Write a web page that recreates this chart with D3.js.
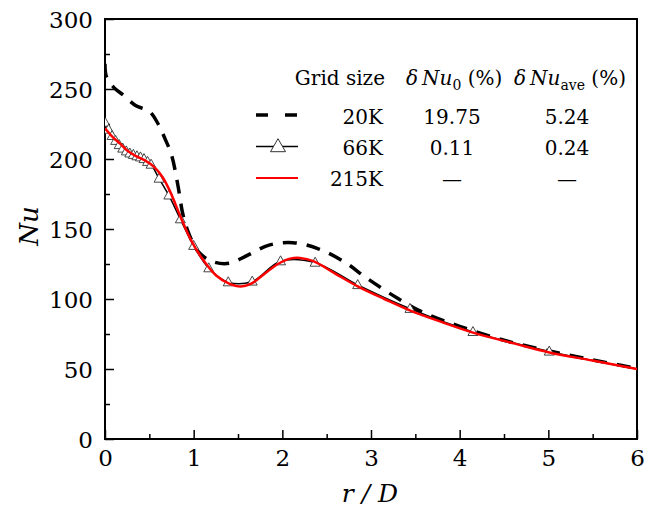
<!DOCTYPE html>
<html><head><meta charset="utf-8">
<script src="https://cdn.jsdelivr.net/npm/d3@7/dist/d3.min.js"></script>
<style>
body{margin:0;background:#fff;}
svg text{font-family:"DejaVu Serif","Liberation Serif",serif !important;fill:#000;}
</style></head>
<body><svg id="chart" width="647" height="510"></svg>
<script>
// ---- data ----
const xTicks = [0,1,2,3,4,5,6];
const yTicks = [0,50,100,150,200,250,300];
// 20K (dashed)
const k20R  = [0,0.015,0.1,0.2,0.35,0.5,0.6,0.68,0.75,0.82,0.88,0.95,1.05,1.2,1.4,1.6,1.85,2.12,2.4,2.7,2.95,3.3,3.6,4.0,4.5,5.0,5.5,6.0];
const k20Nu = [268,259,251,246,238,234,225,214,203,182,160,146,134,127,125.5,131,138.5,140.2,136,126.5,115,100.5,90,80.5,70.5,63,56.5,50.5];
// 66K (line + triangles)
const k66R  = [0,0.04,0.08,0.12,0.16,0.20,0.24,0.28,0.32,0.36,0.40,0.44,0.48,0.52,0.61,0.72,0.85,1.0,1.17,1.39,1.66,1.98,2.37,2.85,3.44,4.15,5.01,6.0];
const k66Nu = [226,221,216.5,213,210,207.5,205.5,204,203,202,201.2,200,198,196,186,174,157,138,122,112,112.5,127,126,110,93,76.5,62.5,50];
// 215K (red)
const k215R  = [0,0.09,0.17,0.25,0.35,0.45,0.55,0.65,0.74,0.85,0.97,1.1,1.25,1.4,1.53,1.65,1.8,1.95,2.1,2.2,2.35,2.6,2.85,3.15,3.45,3.8,4.15,4.6,5.0,5.5,6.0];
const k215Nu = [222,215.5,211,206,202,199,194.5,187,176,159,142,128.5,117,111,109,111,118,125,129,129.3,127,118,109,100,91.5,83.5,76,68.5,62,56,50];
// legend table
const legendNames = ["20K","66K","215K"];
const legendNu0   = ["19.75","0.11","\u2014"];
const legendNuAve = ["5.24","0.24","\u2014"];

// ---- layout ----
const svg = d3.select("#chart");
const L=105, R=637, T=19, B=439;
const x = d3.scaleLinear().domain([0,6]).range([L,R]);
const y = d3.scaleLinear().domain([0,300]).range([B,T]);
const FONT = "'DejaVu Serif','Liberation Serif',serif";

// frame
svg.append("rect").attr("x",L).attr("y",T).attr("width",R-L).attr("height",B-T)
  .attr("fill","none").attr("stroke","#000").attr("stroke-width",2);

// axes with inward ticks
const xMinor = d3.range(0.5,6,1);
const yMinor = d3.range(25,300,50);
const gx = svg.append("g").attr("transform",`translate(0,${B})`);
gx.call(d3.axisBottom(x).tickValues(xMinor).tickSize(-5).tickFormat(""))
  .call(g=>g.select(".domain").remove());
gx.append("g").call(d3.axisBottom(x).tickValues(xTicks).tickSize(-9).tickFormat(d3.format("d")))
  .attr("font-family",FONT)
  .call(g=>g.select(".domain").remove())
  .call(g=>g.selectAll("text").attr("y",11).attr("dy","0.71em").style("font-size","23px"));
gx.selectAll("line").attr("stroke","#000").attr("stroke-width",1.5);

const gy = svg.append("g").attr("transform",`translate(${L},0)`);
gy.call(d3.axisLeft(y).tickValues(yMinor).tickSize(-5).tickFormat(""))
  .call(g=>g.select(".domain").remove());
gy.append("g").call(d3.axisLeft(y).tickValues(yTicks).tickSize(-9).tickFormat(d3.format("d")))
  .attr("font-family",FONT)
  .call(g=>g.select(".domain").remove())
  .call(g=>g.selectAll("text").attr("x",-12).attr("dy","0.36em").style("font-size","23px"));
gy.selectAll("line").attr("stroke","#000").attr("stroke-width",1.5);

// axis titles
svg.append("text").attr("transform","translate(38,226) rotate(-90)").attr("text-anchor","middle")
  .style("font-size","26px").style("font-style","italic").text("Nu");
svg.append("text").attr("x",370).attr("y",502).attr("text-anchor","middle")
  .style("font-size","25px").style("font-style","italic").text("r / D");

// lines
const clip = svg.append("clipPath").attr("id","clp").append("rect").attr("x",L).attr("y",T).attr("width",R-L).attr("height",B-T);
const plot = svg.append("g").attr("clip-path","url(#clp)");
const line = d3.line().x(d=>x(d[0])).y(d=>y(d[1])).curve(d3.curveCatmullRom.alpha(0.5));
const d20 = k20R.map((r,i)=>[r,k20Nu[i]]);
const d66 = k66R.map((r,i)=>[r,k66Nu[i]]);
const d215 = k215R.map((r,i)=>[r,k215Nu[i]]);

plot.append("path").attr("d",line(d20)).attr("fill","none").attr("stroke","#000")
  .attr("stroke-width",3.5).attr("stroke-dasharray","14,10");
plot.append("path").attr("d",line(d66)).attr("fill","none").attr("stroke","#000").attr("stroke-width",1.5);
const tri = (cx,cy,w,h)=>`M${cx},${cy-h*0.6}L${cx+w/2},${cy+h*0.4}L${cx-w/2},${cy+h*0.4}Z`;
plot.selectAll(".tri").data(d66.filter(d=>d[0]<6)).enter().append("path").attr("class","tri")
  .attr("d",d=>tri(x(d[0]),y(d[1]),10,9)).attr("fill","#fff").attr("stroke","#333").attr("stroke-width",0.9);
plot.append("path").attr("d",line(d215)).attr("fill","none").attr("stroke","#ff0000").attr("stroke-width",2.5);

// legend
const lg = svg.append("g");
const hdrY = 85;
const LF = "20px";
lg.append("text").attr("x",385).attr("y",hdrY).attr("text-anchor","end").style("font-size",LF).text("Grid size");
const h1 = lg.append("text").attr("x",406).attr("y",hdrY).style("font-size",LF);
h1.append("tspan").style("font-style","italic").text("\u03B4\u2009Nu");
h1.append("tspan").attr("dy",5).style("font-size","14px").text("0");
h1.append("tspan").attr("dy",-5).text(" (%)");
const h2 = lg.append("text").attr("x",514).attr("y",hdrY).style("font-size",LF);
h2.append("tspan").style("font-style","italic").text("\u03B4\u2009Nu");
h2.append("tspan").attr("dy",5).style("font-size","14px").text("ave");
h2.append("tspan").attr("dy",-5).text(" (%)");

const rowY = [124,155,186];
const sampleY = [115,146.5,178];
legendNames.forEach((n,i)=>{
  lg.append("text").attr("x",383).attr("y",rowY[i]).attr("text-anchor","end").style("font-size",LF).text(n);
  lg.append("text").attr("x",452).attr("y",rowY[i]).attr("text-anchor","middle").style("font-size",LF).text(legendNu0[i]);
  lg.append("text").attr("x",567).attr("y",rowY[i]).attr("text-anchor","middle").style("font-size",LF).text(legendNuAve[i]);
});
lg.append("line").attr("x1",256).attr("x2",298).attr("y1",sampleY[0]).attr("y2",sampleY[0])
  .attr("stroke","#000").attr("stroke-width",3.5).attr("stroke-dasharray","12,17");
lg.append("line").attr("x1",256).attr("x2",298).attr("y1",sampleY[1]).attr("y2",sampleY[1])
  .attr("stroke","#000").attr("stroke-width",1.5);
lg.append("path").attr("d",tri(278,sampleY[1],15,13)).attr("fill","#fff").attr("stroke","#333").attr("stroke-width",1);
lg.append("line").attr("x1",256).attr("x2",298).attr("y1",sampleY[2]).attr("y2",sampleY[2])
  .attr("stroke","#ff0000").attr("stroke-width",2);
</script></body></html>
